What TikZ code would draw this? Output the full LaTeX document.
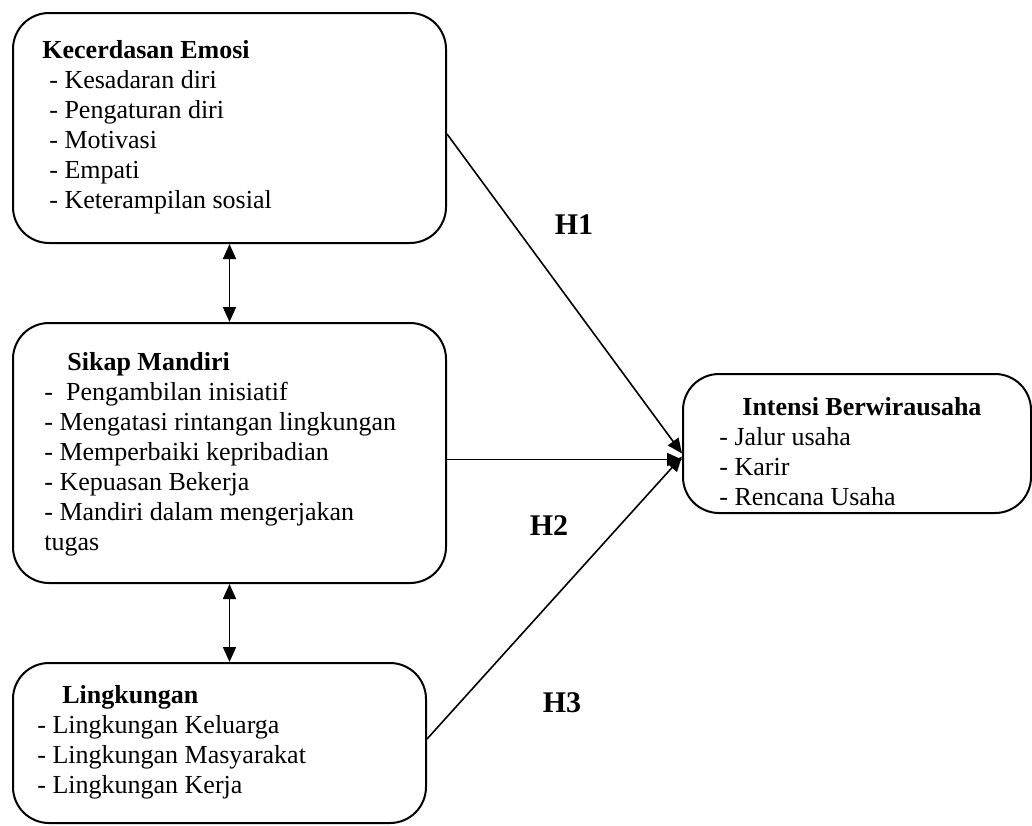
\documentclass[tikz,border=0pt]{standalone}
\usepackage{fontspec}
\setmainfont{Liberation Serif}
\usetikzlibrary{arrows.meta,positioning}

\begin{document}
\begin{tikzpicture}[x=0.5pt,y=-0.5pt,>={Triangle[length=7.5pt,width=6.5pt]},
  box/.style={draw, rounded corners=18pt, line width=1pt, inner sep=0pt},
  txt/.style={align=left, inner sep=0pt, font=\fontsize{13}{15}\selectfont},
  hyp/.style={font=\fontsize{15}{18}\selectfont\bfseries},
  link/.style={->, line width=0.8pt}]
    \useasboundingbox (0,0) rectangle (1032,825);
    % variable boxes
    \node [box, anchor=north west, minimum width=216.5pt, minimum height=115pt] (ke) at (12,12) {};
    \node [box, below=39pt of ke, minimum width=216.5pt, minimum height=130pt] (sm) {};
    \node [box, below right=39pt and 0pt of sm.south west, minimum width=206.5pt, minimum height=80pt] (lk) {};
    \node [box, anchor=north west, minimum width=174pt, minimum height=69.5pt] (ib) at (682,373) {};
    % box contents
    \node [txt, below right=14pt and 15pt of ke.north west] (ketxt) {\textbf{Kecerdasan Emosi}\\
      \hspace*{3.5pt}- Kesadaran diri\\ \hspace*{3.5pt}- Pengaturan diri\\ \hspace*{3.5pt}- Motivasi\\
      \hspace*{3.5pt}- Empati\\ \hspace*{3.5pt}- Keterampilan sosial};
    \node [txt, below right=15pt and 16pt of sm.north west] (smtxt) {\hspace*{11.5pt}\textbf{Sikap Mandiri}\\
      -~ Pengambilan inisiatif\\ - Mengatasi rintangan lingkungan\\ - Memperbaiki kepribadian\\
      - Kepuasan Bekerja\\ - Mandiri dalam mengerjakan\\ tugas};
    \node [txt, below right=11.5pt and 12.5pt of lk.north west] (lktxt) {\hspace*{12.5pt}\textbf{Lingkungan}\\
      - Lingkungan Keluarga\\ - Lingkungan Masyarakat\\ - Lingkungan Kerja};
    \node [txt, below right=12pt and 18.5pt of ib.north west] (ibtxt) {\hspace*{11.5pt}\textbf{Intensi Berwirausaha}\\
      - Jalur usaha\\ - Karir\\ - Rencana Usaha};
    % hypotheses
    \coordinate (ibin) at ([yshift=-8pt]ib.west);
    \draw[link] ([yshift=-3pt]ke.east) -- ([yshift=3pt]ibin);
    \draw[link] (sm.east |- ibin) -- (ibin);
    \draw[link] ([yshift=2pt]lk.east) -- ([yshift=1.5pt]ibin);
    \draw[link, <->] (ke.south) -- (sm.north);
    \draw[link, <->] (sm.south) -- (sm.south |- lk.north);
    \node [hyp] (h1) at (574,225) {H1};
    \node [hyp] (h2) at (549,526) {H2};
    \node [hyp] (h3) at (562,703) {H3};
\end{tikzpicture}
\end{document}
